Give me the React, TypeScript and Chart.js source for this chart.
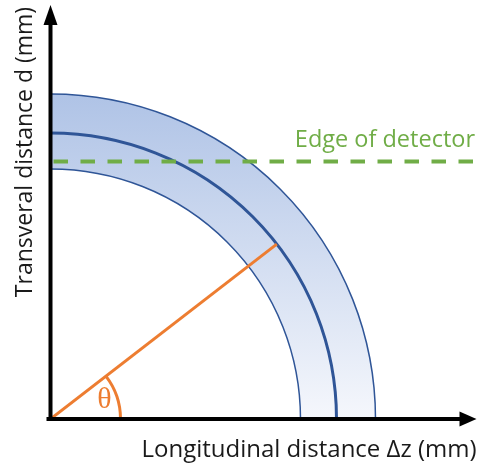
import React, { useEffect, useRef } from "react";
import { Chart, registerables } from "chart.js";

Chart.register(...registerables);

// Axis extents (mm)
const zRange = [0, 426];
const dRange = [0, 414];

// Radii of the three circles (mm): inner edge, centre line, outer edge of the band
const bandRadii = [250, 286, 325];
const centreRadius = 286;

// Transverse position of the detector edge (mm) and its drawn extent along z
const detectorEdge = 257.5;
const detectorSpan = [3, 423];

// Polar angle of the marked track (degrees) and the radius of its angle arc
const thetaDeg = 37.7;
const thetaArcRadius = 70;

// Text
const xTitle = "Longitudinal distance \u0394z (mm)";
const yTitle = "Transveral distance d (mm)";
const edgeLabel = "Edge of detector";
const thetaLabel = "\u03b8";

const BLUE = "#2F5597";
const GREEN = "#70AD47";
const ORANGE = "#ED7D31";
const FONT = "'Open Sans', Lato, sans-serif";

const diagramPlugin = {
  id: "diagram",
  beforeDatasetsDraw(chart: any) {
    const { ctx, scales } = chart;
    const xs = scales.x;
    const ys = scales.y;
    const cx = xs.getPixelForValue(0);
    const cy = ys.getPixelForValue(0);
    const rx = (r: number) => xs.getPixelForValue(r) - cx;
    const ry = (r: number) => cy - ys.getPixelForValue(r);
    const rIn = bandRadii[0];
    const rOut = bandRadii[bandRadii.length - 1];

    ctx.save();
    // shaded band between inner and outer circle
    const grad = ctx.createLinearGradient(0, cy - ry(rOut), 0, cy);
    grad.addColorStop(0, "#AFC3E6");
    grad.addColorStop(1, "#F5F7FC");
    ctx.beginPath();
    ctx.ellipse(cx, cy, rx(rOut), ry(rOut), 0, -Math.PI / 2, 0, false);
    ctx.ellipse(cx, cy, rx(rIn), ry(rIn), 0, 0, -Math.PI / 2, true);
    ctx.closePath();
    ctx.fillStyle = grad;
    ctx.fill();

    // circle outlines
    bandRadii.forEach((r) => {
      ctx.beginPath();
      ctx.ellipse(cx, cy, rx(r), ry(r), 0, -Math.PI / 2, 0, false);
      ctx.strokeStyle = BLUE;
      ctx.lineWidth = r === centreRadius ? 3 : 1.5;
      ctx.stroke();
    });
    ctx.restore();
  },
  afterDatasetsDraw(chart: any) {
    const { ctx, scales } = chart;
    const xs = scales.x;
    const ys = scales.y;
    const cx = xs.getPixelForValue(0);
    const cy = ys.getPixelForValue(0);
    const xEnd = xs.getPixelForValue(zRange[1]);
    const yEnd = ys.getPixelForValue(dRange[1]);
    const th = (thetaDeg * Math.PI) / 180;

    ctx.save();
    // angle arc
    ctx.beginPath();
    ctx.arc(cx, cy, thetaArcRadius, -th, 0, false);
    ctx.strokeStyle = ORANGE;
    ctx.lineWidth = 3;
    ctx.stroke();

    // axes with arrow heads
    ctx.strokeStyle = "#000";
    ctx.fillStyle = "#000";
    ctx.lineWidth = 4;
    ctx.lineCap = "butt";
    ctx.beginPath();
    ctx.moveTo(cx - 4, cy);
    ctx.lineTo(xEnd - 16, cy);
    ctx.moveTo(cx, cy + 2);
    ctx.lineTo(cx, yEnd + 19);
    ctx.stroke();
    ctx.beginPath();
    ctx.moveTo(xEnd, cy);
    ctx.lineTo(xEnd - 17, cy - 7.5);
    ctx.lineTo(xEnd - 17, cy + 7.5);
    ctx.closePath();
    ctx.fill();
    ctx.beginPath();
    ctx.moveTo(cx, yEnd);
    ctx.lineTo(cx - 7, yEnd + 20);
    ctx.lineTo(cx + 7, yEnd + 20);
    ctx.closePath();
    ctx.fill();

    // θ label
    const lr = 57;
    ctx.fillStyle = ORANGE;
    ctx.font = "30px 'Liberation Serif', serif";
    ctx.textAlign = "center";
    ctx.textBaseline = "middle";
    ctx.fillText(thetaLabel, cx + lr * Math.cos(th / 2), cy - lr * Math.sin(th / 2));

    // detector edge label
    ctx.fillStyle = GREEN;
    ctx.font = `23.5px ${FONT}`;
    ctx.textAlign = "right";
    ctx.textBaseline = "alphabetic";
    ctx.fillText(edgeLabel, 475, ys.getPixelForValue(detectorEdge) - 15);

    // axis titles
    ctx.fillStyle = "#1a1a1a";
    ctx.font = `24px ${FONT}`;
    ctx.textAlign = "center";
    ctx.fillText(xTitle, 309, 457);
    ctx.font = `23px ${FONT}`;
    ctx.translate(32, 152);
    ctx.rotate(-Math.PI / 2);
    ctx.fillText(yTitle, 0, 0);
    ctx.restore();
  },
};

export default function App() {
  const ref = useRef<HTMLCanvasElement>(null);
  useEffect(() => {
    if (!ref.current) return;
    const th = (thetaDeg * Math.PI) / 180;
    const chart = new Chart(ref.current, {
      type: "scatter",
      data: {
        datasets: [
          {
            label: edgeLabel,
            data: [
              { x: detectorSpan[0], y: detectorEdge },
              { x: detectorSpan[1], y: detectorEdge },
            ],
            showLine: true,
            borderColor: GREEN,
            borderWidth: 4,
            borderDash: [14.5, 12.5],
            pointRadius: 0,
          },
          {
            label: "track",
            data: [
              { x: 0, y: 0 },
              { x: centreRadius * Math.cos(th), y: centreRadius * Math.sin(th) },
            ],
            showLine: true,
            borderColor: ORANGE,
            borderWidth: 3,
            pointRadius: 0,
          },
        ],
      },
      options: {
        responsive: false,
        animation: false,
        layout: { padding: { left: 50.5, right: 1.5, top: 5, bottom: 49 } },
        plugins: { legend: { display: false }, tooltip: { enabled: false } },
        scales: {
          x: { type: "linear", min: zRange[0], max: zRange[1], display: false },
          y: { type: "linear", min: dRange[0], max: dRange[1], display: false },
        },
      },
      plugins: [diagramPlugin],
    });
    return () => chart.destroy();
  }, []);
  return (
    <div style={{ position: "fixed", left: 0, top: 0, width: 478, height: 468, background: "#fff" }}>
      <canvas ref={ref} width={478} height={468} />
    </div>
  );
}
